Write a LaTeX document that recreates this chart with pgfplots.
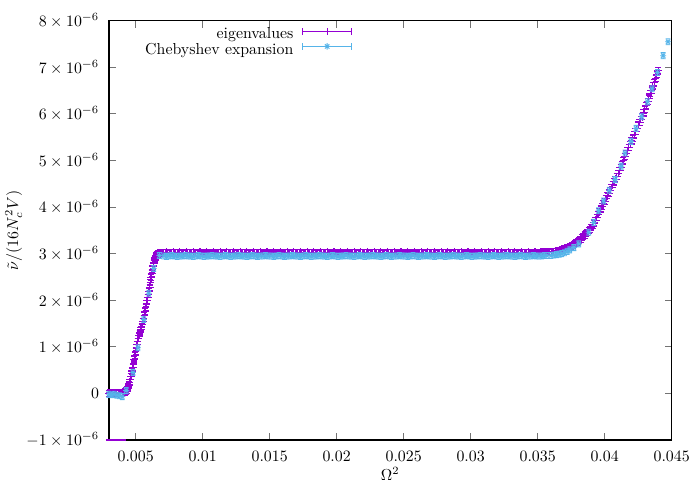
\documentclass[border=0pt]{standalone}
\usepackage{pgfplots}
\usepackage{pgfplotstable}
\pgfplotsset{compat=1.18}
\definecolor{gpPurple}{RGB}{148,0,211}
\definecolor{gpBlue}{RGB}{86,180,233}

% gnuplot-like point + error bar caps
\pgfdeclareplotmark{gpplus}{%
  \pgfpathmoveto{\pgfqpoint{-\pgfplotmarksize}{0pt}}%
  \pgfpathlineto{\pgfqpoint{\pgfplotmarksize}{0pt}}%
  \pgfpathmoveto{\pgfqpoint{0pt}{-\pgfplotmarksize}}%
  \pgfpathlineto{\pgfqpoint{0pt}{\pgfplotmarksize}}%
  \pgfpathmoveto{\pgfqpoint{-0.8\pgfplotmarksize}{0.8\pgfplotmarksize}}%
  \pgfpathlineto{\pgfqpoint{0.8\pgfplotmarksize}{0.8\pgfplotmarksize}}%
  \pgfpathmoveto{\pgfqpoint{-0.8\pgfplotmarksize}{-0.8\pgfplotmarksize}}%
  \pgfpathlineto{\pgfqpoint{0.8\pgfplotmarksize}{-0.8\pgfplotmarksize}}%
  \pgfusepathqstroke}
\pgfdeclareplotmark{gpstar}{%
  \pgfpathmoveto{\pgfqpoint{-\pgfplotmarksize}{0pt}}%
  \pgfpathlineto{\pgfqpoint{\pgfplotmarksize}{0pt}}%
  \pgfpathmoveto{\pgfqpoint{0pt}{-\pgfplotmarksize}}%
  \pgfpathlineto{\pgfqpoint{0pt}{\pgfplotmarksize}}%
  \pgfpathmoveto{\pgfqpoint{-0.7\pgfplotmarksize}{-0.7\pgfplotmarksize}}%
  \pgfpathlineto{\pgfqpoint{0.7\pgfplotmarksize}{0.7\pgfplotmarksize}}%
  \pgfpathmoveto{\pgfqpoint{-0.7\pgfplotmarksize}{0.7\pgfplotmarksize}}%
  \pgfpathlineto{\pgfqpoint{0.7\pgfplotmarksize}{-0.7\pgfplotmarksize}}%
  \pgfpathmoveto{\pgfqpoint{-0.8\pgfplotmarksize}{\pgfplotmarksize}}%
  \pgfpathlineto{\pgfqpoint{0.8\pgfplotmarksize}{\pgfplotmarksize}}%
  \pgfpathmoveto{\pgfqpoint{-0.8\pgfplotmarksize}{-\pgfplotmarksize}}%
  \pgfpathlineto{\pgfqpoint{0.8\pgfplotmarksize}{-\pgfplotmarksize}}%
  \pgfusepathqstroke}

% eigenvalues, v in units of 1e-6
\pgfplotstableread[row sep=\\]{
x v \\
0.00297 0.00 \\
0.0030 0.00 \\ 0.0031 0.01 \\ 0.0032 0.00 \\ 0.0033 -0.01 \\ 0.0034 0.00 \\ 0.0035 0.01 \\
0.0036 0.00 \\ 0.0037 -0.01 \\ 0.0038 0.00 \\ 0.0039 0.01 \\ 0.0040 0.01 \\ 0.0041 0.02 \\
0.00420 0.03 \\ 0.00425 0.04 \\ 0.00430 0.05 \\ 0.00435 0.07 \\ 0.00440 0.10 \\ 0.00445 0.14 \\
0.00450 0.18 \\ 0.00455 0.24 \\ 0.00460 0.30 \\ 0.00465 0.36 \\ 0.00470 0.42 \\ 0.00475 0.48 \\
0.00480 0.55 \\ 0.00485 0.63 \\ 0.00490 0.72 \\ 0.00495 0.81 \\ 0.00500 0.90 \\ 0.00505 0.98 \\
0.00510 1.05 \\ 0.00515 1.12 \\ 0.00520 1.18 \\ 0.00525 1.24 \\ 0.00530 1.29 \\ 0.00535 1.34 \\
0.00540 1.38 \\ 0.00545 1.43 \\ 0.00550 1.48 \\ 0.00555 1.54 \\ 0.00560 1.60 \\ 0.00565 1.68 \\
0.00570 1.76 \\ 0.00575 1.84 \\ 0.00580 1.92 \\ 0.00585 1.99 \\ 0.00590 2.06 \\ 0.00595 2.12 \\
0.00600 2.18 \\ 0.00605 2.28 \\ 0.00610 2.38 \\ 0.00615 2.48 \\ 0.00620 2.58 \\ 0.00625 2.66 \\
0.00630 2.74 \\ 0.00635 2.80 \\ 0.00640 2.85 \\ 0.00645 2.89 \\ 0.00650 2.93 \\ 0.00655 2.95 \\
0.00660 2.97 \\ 0.00665 2.99 \\ 0.00670 3.00 \\ 0.00675 3.01 \\ 0.00680 3.01 \\ 0.00685 3.02 \\
0.00690 3.02 \\ 0.00695 3.02 \\ 0.00700 3.02 \\
0.0071 3.02 \\ 0.0072 3.02 \\ 0.0073 3.03 \\ 0.0074 3.02 \\ 0.0075 3.01 \\ 0.0076 3.02 \\ 0.0077 3.02 \\ 0.0078 3.03 \\ 0.0079 3.02 \\ 0.0080 3.02 \\
0.0081 3.02 \\ 0.0082 3.02 \\ 0.0083 3.03 \\ 0.0084 3.02 \\ 0.0085 3.01 \\ 0.0086 3.02 \\ 0.0087 3.02 \\ 0.0088 3.03 \\ 0.0089 3.02 \\ 0.0090 3.02 \\
0.0091 3.02 \\ 0.0092 3.02 \\ 0.0093 3.03 \\ 0.0094 3.02 \\ 0.0095 3.01 \\ 0.0096 3.02 \\ 0.0097 3.02 \\ 0.0098 3.03 \\ 0.0099 3.02 \\ 0.0100 3.02 \\
0.0101 3.02 \\ 0.0102 3.02 \\ 0.0103 3.03 \\ 0.0104 3.02 \\ 0.0105 3.01 \\ 0.0106 3.02 \\ 0.0107 3.02 \\ 0.0108 3.03 \\ 0.0109 3.02 \\ 0.0110 3.02 \\
0.0111 3.02 \\ 0.0112 3.02 \\ 0.0113 3.03 \\ 0.0114 3.02 \\ 0.0115 3.01 \\ 0.0116 3.02 \\ 0.0117 3.02 \\ 0.0118 3.03 \\ 0.0119 3.02 \\ 0.0120 3.02 \\
0.0121 3.02 \\ 0.0122 3.02 \\ 0.0123 3.03 \\ 0.0124 3.02 \\ 0.0125 3.01 \\ 0.0126 3.02 \\ 0.0127 3.02 \\ 0.0128 3.03 \\ 0.0129 3.02 \\ 0.0130 3.02 \\
0.0131 3.02 \\ 0.0132 3.02 \\ 0.0133 3.03 \\ 0.0134 3.02 \\ 0.0135 3.01 \\ 0.0136 3.02 \\ 0.0137 3.02 \\ 0.0138 3.03 \\ 0.0139 3.02 \\ 0.0140 3.02 \\
0.0141 3.02 \\ 0.0142 3.02 \\ 0.0143 3.03 \\ 0.0144 3.02 \\ 0.0145 3.01 \\ 0.0146 3.02 \\ 0.0147 3.02 \\ 0.0148 3.03 \\ 0.0149 3.02 \\ 0.0150 3.02 \\
0.0151 3.02 \\ 0.0152 3.02 \\ 0.0153 3.03 \\ 0.0154 3.02 \\ 0.0155 3.01 \\ 0.0156 3.02 \\ 0.0157 3.02 \\ 0.0158 3.03 \\ 0.0159 3.02 \\ 0.0160 3.02 \\
0.0161 3.02 \\ 0.0162 3.02 \\ 0.0163 3.03 \\ 0.0164 3.02 \\ 0.0165 3.01 \\ 0.0166 3.02 \\ 0.0167 3.02 \\ 0.0168 3.03 \\ 0.0169 3.02 \\ 0.0170 3.02 \\
0.0171 3.02 \\ 0.0172 3.02 \\ 0.0173 3.03 \\ 0.0174 3.02 \\ 0.0175 3.01 \\ 0.0176 3.02 \\ 0.0177 3.02 \\ 0.0178 3.03 \\ 0.0179 3.02 \\ 0.0180 3.02 \\
0.0181 3.02 \\ 0.0182 3.02 \\ 0.0183 3.03 \\ 0.0184 3.02 \\ 0.0185 3.01 \\ 0.0186 3.02 \\ 0.0187 3.02 \\ 0.0188 3.03 \\ 0.0189 3.02 \\ 0.0190 3.02 \\
0.0191 3.02 \\ 0.0192 3.02 \\ 0.0193 3.03 \\ 0.0194 3.02 \\ 0.0195 3.01 \\ 0.0196 3.02 \\ 0.0197 3.02 \\ 0.0198 3.03 \\ 0.0199 3.02 \\ 0.0200 3.02 \\
0.0201 3.02 \\ 0.0202 3.02 \\ 0.0203 3.03 \\ 0.0204 3.02 \\ 0.0205 3.01 \\ 0.0206 3.02 \\ 0.0207 3.02 \\ 0.0208 3.03 \\ 0.0209 3.02 \\ 0.0210 3.02 \\
0.0211 3.02 \\ 0.0212 3.02 \\ 0.0213 3.03 \\ 0.0214 3.02 \\ 0.0215 3.01 \\ 0.0216 3.02 \\ 0.0217 3.02 \\ 0.0218 3.03 \\ 0.0219 3.02 \\ 0.0220 3.02 \\
0.0221 3.02 \\ 0.0222 3.02 \\ 0.0223 3.03 \\ 0.0224 3.02 \\ 0.0225 3.01 \\ 0.0226 3.02 \\ 0.0227 3.02 \\ 0.0228 3.03 \\ 0.0229 3.02 \\ 0.0230 3.02 \\
0.0231 3.02 \\ 0.0232 3.02 \\ 0.0233 3.03 \\ 0.0234 3.02 \\ 0.0235 3.01 \\ 0.0236 3.02 \\ 0.0237 3.02 \\ 0.0238 3.03 \\ 0.0239 3.02 \\ 0.0240 3.02 \\
0.0241 3.02 \\ 0.0242 3.02 \\ 0.0243 3.03 \\ 0.0244 3.02 \\ 0.0245 3.01 \\ 0.0246 3.02 \\ 0.0247 3.02 \\ 0.0248 3.03 \\ 0.0249 3.02 \\ 0.0250 3.02 \\
0.0251 3.02 \\ 0.0252 3.02 \\ 0.0253 3.03 \\ 0.0254 3.02 \\ 0.0255 3.01 \\ 0.0256 3.02 \\ 0.0257 3.02 \\ 0.0258 3.03 \\ 0.0259 3.02 \\ 0.0260 3.02 \\
0.0261 3.02 \\ 0.0262 3.02 \\ 0.0263 3.03 \\ 0.0264 3.02 \\ 0.0265 3.01 \\ 0.0266 3.02 \\ 0.0267 3.02 \\ 0.0268 3.03 \\ 0.0269 3.02 \\ 0.0270 3.02 \\
0.0271 3.02 \\ 0.0272 3.02 \\ 0.0273 3.03 \\ 0.0274 3.02 \\ 0.0275 3.01 \\ 0.0276 3.02 \\ 0.0277 3.02 \\ 0.0278 3.03 \\ 0.0279 3.02 \\ 0.0280 3.02 \\
0.0281 3.02 \\ 0.0282 3.02 \\ 0.0283 3.03 \\ 0.0284 3.02 \\ 0.0285 3.01 \\ 0.0286 3.02 \\ 0.0287 3.02 \\ 0.0288 3.03 \\ 0.0289 3.02 \\ 0.0290 3.02 \\
0.0291 3.02 \\ 0.0292 3.02 \\ 0.0293 3.03 \\ 0.0294 3.02 \\ 0.0295 3.01 \\ 0.0296 3.02 \\ 0.0297 3.02 \\ 0.0298 3.03 \\ 0.0299 3.02 \\ 0.0300 3.02 \\
0.0301 3.02 \\ 0.0302 3.02 \\ 0.0303 3.03 \\ 0.0304 3.02 \\ 0.0305 3.01 \\ 0.0306 3.02 \\ 0.0307 3.02 \\ 0.0308 3.03 \\ 0.0309 3.02 \\ 0.0310 3.02 \\
0.0311 3.02 \\ 0.0312 3.02 \\ 0.0313 3.03 \\ 0.0314 3.02 \\ 0.0315 3.01 \\ 0.0316 3.02 \\ 0.0317 3.02 \\ 0.0318 3.03 \\ 0.0319 3.02 \\ 0.0320 3.02 \\
0.0321 3.02 \\ 0.0322 3.02 \\ 0.0323 3.03 \\ 0.0324 3.02 \\ 0.0325 3.01 \\ 0.0326 3.02 \\ 0.0327 3.02 \\ 0.0328 3.03 \\ 0.0329 3.02 \\ 0.0330 3.02 \\
0.0331 3.02 \\ 0.0332 3.02 \\ 0.0333 3.03 \\ 0.0334 3.02 \\ 0.0335 3.01 \\ 0.0336 3.02 \\ 0.0337 3.02 \\ 0.0338 3.03 \\ 0.0339 3.02 \\ 0.0340 3.02 \\
0.0341 3.02 \\ 0.0342 3.02 \\ 0.0343 3.03 \\ 0.0344 3.02 \\ 0.0345 3.01 \\ 0.0346 3.02 \\ 0.0347 3.02 \\ 0.0348 3.03 \\ 0.0349 3.02 \\ 0.0350 3.02 \\
0.0351 3.02 \\ 0.0352 3.03 \\ 0.0353 3.03 \\ 0.0354 3.03 \\ 0.0355 3.03 \\
0.0356 3.03 \\ 0.0357 3.03 \\ 0.0358 3.03 \\ 0.0359 3.04 \\ 0.0360 3.04 \\ 0.0361 3.04 \\ 0.0362 3.05 \\ 0.0363 3.05 \\ 0.0364 3.05 \\ 0.0365 3.06 \\
0.0366 3.06 \\ 0.0367 3.07 \\ 0.0368 3.08 \\ 0.0369 3.09 \\ 0.0370 3.10 \\ 0.0371 3.11 \\ 0.0372 3.12 \\ 0.0373 3.13 \\ 0.0374 3.15 \\ 0.0375 3.16 \\
0.0376 3.18 \\ 0.0377 3.20 \\ 0.0378 3.22 \\ 0.0379 3.24 \\ 0.0380 3.26 \\ 0.0381 3.28 \\ 0.0382 3.31 \\ 0.0383 3.34 \\ 0.0384 3.37 \\ 0.0385 3.40 \\
0.0386 3.43 \\ 0.0387 3.46 \\ 0.0388 3.49 \\ 0.0389 3.52 \\ 0.0390 3.56 \\ 0.0391 3.61 \\ 0.0392 3.66 \\ 0.0393 3.72 \\ 0.0394 3.78 \\ 0.0395 3.84 \\
0.0396 3.90 \\ 0.0397 3.96 \\ 0.0398 4.02 \\ 0.0399 4.07 \\ 0.0400 4.12 \\ 0.0401 4.18 \\ 0.0402 4.24 \\ 0.0403 4.30 \\ 0.0404 4.36 \\ 0.0405 4.42 \\
0.0406 4.48 \\ 0.0407 4.54 \\ 0.0408 4.60 \\ 0.0409 4.66 \\ 0.0410 4.72 \\ 0.0411 4.78 \\ 0.0412 4.85 \\ 0.0413 4.92 \\ 0.0414 5.00 \\ 0.0415 5.08 \\
0.0416 5.15 \\ 0.0417 5.21 \\ 0.0418 5.28 \\ 0.0419 5.35 \\ 0.0420 5.42 \\ 0.0421 5.48 \\ 0.0422 5.55 \\ 0.0423 5.62 \\ 0.0424 5.69 \\ 0.0425 5.76 \\
0.0426 5.82 \\ 0.0427 5.88 \\ 0.0428 5.94 \\ 0.0429 6.02 \\ 0.0430 6.10 \\ 0.0431 6.18 \\ 0.0432 6.26 \\ 0.0433 6.34 \\ 0.0434 6.43 \\ 0.0435 6.51 \\
0.0436 6.60 \\ 0.0437 6.68 \\ 0.0438 6.76 \\ 0.0439 6.85 \\ 0.0440 6.93 \\
}\eigen

% points sitting on the lower border
\pgfplotstableread[row sep=\\]{
x v \\
0.0030 -1.0 \\ 0.0031 -1.0 \\ 0.0032 -1.0 \\ 0.0033 -1.0 \\ 0.0034 -1.0 \\ 0.0035 -1.0 \\
0.0036 -1.0 \\ 0.0037 -1.0 \\ 0.0038 -1.0 \\ 0.0039 -1.0 \\ 0.0040 -1.0 \\
}\eigenlow

% Chebyshev expansion, v in units of 1e-6
\pgfplotstableread[row sep=\\]{
x v \\
0.0030 -0.02 \\ 0.0032 -0.03 \\ 0.0034 -0.02 \\ 0.0036 -0.04 \\ 0.0038 -0.05 \\
0.0040 -0.07 \\ 0.0043 0.06 \\ 0.0048 0.45 \\ 0.00517 0.98 \\ 0.00561 1.59 \\
0.00598 2.15 \\ 0.00635 2.68 \\ 0.00677 2.96 \\
0.0071 2.95 \\ 0.0073 2.94 \\ 0.0075 2.95 \\ 0.0077 2.96 \\ 0.0079 2.95 \\ 0.0081 2.94 \\ 0.0083 2.95 \\ 0.0085 2.95 \\ 0.0087 2.96 \\ 0.0089 2.95 \\
0.0091 2.95 \\ 0.0093 2.94 \\ 0.0095 2.95 \\ 0.0097 2.96 \\ 0.0099 2.95 \\ 0.0101 2.94 \\ 0.0103 2.95 \\ 0.0105 2.95 \\ 0.0107 2.96 \\ 0.0109 2.95 \\
0.0111 2.95 \\ 0.0113 2.94 \\ 0.0115 2.95 \\ 0.0117 2.96 \\ 0.0119 2.95 \\ 0.0121 2.94 \\ 0.0123 2.95 \\ 0.0125 2.95 \\ 0.0127 2.96 \\ 0.0129 2.95 \\
0.0131 2.95 \\ 0.0133 2.94 \\ 0.0135 2.95 \\ 0.0137 2.96 \\ 0.0139 2.95 \\ 0.0141 2.94 \\ 0.0143 2.95 \\ 0.0145 2.95 \\ 0.0147 2.96 \\ 0.0149 2.95 \\
0.0151 2.95 \\ 0.0153 2.94 \\ 0.0155 2.95 \\ 0.0157 2.96 \\ 0.0159 2.95 \\ 0.0161 2.94 \\ 0.0163 2.95 \\ 0.0165 2.95 \\ 0.0167 2.96 \\ 0.0169 2.95 \\
0.0171 2.95 \\ 0.0173 2.94 \\ 0.0175 2.95 \\ 0.0177 2.96 \\ 0.0179 2.95 \\ 0.0181 2.94 \\ 0.0183 2.95 \\ 0.0185 2.95 \\ 0.0187 2.96 \\ 0.0189 2.95 \\
0.0191 2.95 \\ 0.0193 2.94 \\ 0.0195 2.95 \\ 0.0197 2.96 \\ 0.0199 2.95 \\ 0.0201 2.94 \\ 0.0203 2.95 \\ 0.0205 2.95 \\ 0.0207 2.96 \\ 0.0209 2.95 \\
0.0211 2.95 \\ 0.0213 2.94 \\ 0.0215 2.95 \\ 0.0217 2.96 \\ 0.0219 2.95 \\ 0.0221 2.94 \\ 0.0223 2.95 \\ 0.0225 2.95 \\ 0.0227 2.96 \\ 0.0229 2.95 \\
0.0231 2.95 \\ 0.0233 2.94 \\ 0.0235 2.95 \\ 0.0237 2.96 \\ 0.0239 2.95 \\ 0.0241 2.94 \\ 0.0243 2.95 \\ 0.0245 2.95 \\ 0.0247 2.96 \\ 0.0249 2.95 \\
0.0251 2.95 \\ 0.0253 2.94 \\ 0.0255 2.95 \\ 0.0257 2.96 \\ 0.0259 2.95 \\ 0.0261 2.94 \\ 0.0263 2.95 \\ 0.0265 2.95 \\ 0.0267 2.96 \\ 0.0269 2.95 \\
0.0271 2.95 \\ 0.0273 2.94 \\ 0.0275 2.95 \\ 0.0277 2.96 \\ 0.0279 2.95 \\ 0.0281 2.94 \\ 0.0283 2.95 \\ 0.0285 2.95 \\ 0.0287 2.96 \\ 0.0289 2.95 \\
0.0291 2.95 \\ 0.0293 2.94 \\ 0.0295 2.95 \\ 0.0297 2.96 \\ 0.0299 2.95 \\ 0.0301 2.94 \\ 0.0303 2.95 \\ 0.0305 2.95 \\ 0.0307 2.96 \\ 0.0309 2.95 \\
0.0311 2.95 \\ 0.0313 2.94 \\ 0.0315 2.95 \\ 0.0317 2.96 \\ 0.0319 2.95 \\ 0.0321 2.94 \\ 0.0323 2.95 \\ 0.0325 2.95 \\ 0.0327 2.96 \\ 0.0329 2.95 \\
0.0331 2.95 \\ 0.0333 2.94 \\ 0.0335 2.95 \\ 0.0337 2.96 \\ 0.0339 2.95 \\ 0.0341 2.94 \\ 0.0343 2.95 \\ 0.0345 2.95 \\ 0.0347 2.96 \\ 0.0349 2.95 \\
0.0351 2.95 \\ 0.0353 2.95 \\ 0.0355 2.96 \\
0.0357 2.96 \\ 0.0360 2.96 \\ 0.0362 2.97 \\ 0.0364 2.98 \\ 0.0366 2.99 \\ 0.0368 3.00 \\
0.0370 3.02 \\ 0.0372 3.05 \\ 0.0374 3.08 \\ 0.0377 3.13 \\ 0.03807 3.21 \\
0.03881 3.46 \\ 0.03918 3.67 \\ 0.03955 3.92 \\ 0.03992 4.13 \\ 0.04034 4.36 \\
0.04078 4.59 \\ 0.04123 4.88 \\ 0.04152 5.16 \\ 0.04197 5.41 \\ 0.04234 5.69 \\
0.04276 5.94 \\ 0.04320 6.26 \\ 0.04354 6.54 \\ 0.04394 6.89 \\ 0.04436 7.25 \\
0.04473 7.55 \\
}\cheb

\begin{document}
\begin{tikzpicture}
\begin{axis}[
    width=355pt, height=264.4pt, scale only axis,
    xmin=0.003, xmax=0.045,
    ymin=-1e-6, ymax=8e-6,
    xtick={0.005,0.01,0.015,0.02,0.025,0.03,0.035,0.04,0.045},
    xticklabels={0.005,0.01,0.015,0.02,0.025,0.03,0.035,0.04,0.045},
    ytick={-1e-6,0,1e-6,2e-6,3e-6,4e-6,5e-6,6e-6,7e-6,8e-6},
    yticklabels={$-1\times10^{-6}$,$0$,$1\times10^{-6}$,$2\times10^{-6}$,$3\times10^{-6}$,
                 $4\times10^{-6}$,$5\times10^{-6}$,$6\times10^{-6}$,$7\times10^{-6}$,$8\times10^{-6}$},
    scaled x ticks=false, scaled y ticks=false,
    tick align=inside, major tick length=4.4pt,
    tick style={black!55, line width=0.6pt},
    axis line style={line width=0.9pt},
    xticklabel style={yshift=-3.5pt},
    yticklabel style={xshift=-2.7pt},
    xlabel={$\Omega^2$},
    ylabel={$\tilde{\nu}/(16N_c^2V)$},
    every axis x label/.style={at={(rel axis cs:0.5,-0.0813)}, anchor=center},
    every axis y label/.style={at={(rel axis cs:-0.169,0.5)}, rotate=90, anchor=center},
    clip mode=individual,
    legend plot pos=right,
    legend cell align=right,
    legend style={at={(0.433,0.985)}, anchor=north east, draw=none, fill=none,
        inner sep=0pt, row sep=0pt, column sep=5.5pt,
        nodes={inner sep=0pt, text height=6.8pt, text depth=2.2pt}},
]
\addplot[gpPurple, only marks, mark=gpplus, mark size=2.4pt, line width=0.7pt,
    legend image code/.code={
        \draw[gpPurple, line width=0.6pt] (0pt,2.5pt) -- (31pt,2.5pt);
        \draw[gpPurple, line width=0.6pt] (0pt,0.3pt) -- (0pt,4.7pt);
        \draw[gpPurple, line width=0.6pt] (31pt,0.3pt) -- (31pt,4.7pt);
        \draw[gpPurple, line width=0.6pt] (13.4pt,2.5pt) -- (17.6pt,2.5pt) (15.5pt,0.4pt) -- (15.5pt,4.6pt);
    }]
    table[x=x, y expr=\thisrow{v}*1e-6] {\eigen};
\addlegendentry{eigenvalues}
\addplot[gpPurple, only marks, mark=-, mark size=2.1pt, line width=1.4pt, forget plot]
    table[x=x, y expr=\thisrow{v}*1e-6] {\eigenlow};
\addplot[gpBlue, only marks, mark=gpstar, mark size=1.9pt, line width=0.55pt,
    legend image code/.code={
        \draw[gpBlue, line width=0.6pt] (0pt,2.5pt) -- (31pt,2.5pt);
        \draw[gpBlue, line width=0.6pt] (0pt,0.3pt) -- (0pt,4.7pt);
        \draw[gpBlue, line width=0.6pt] (31pt,0.3pt) -- (31pt,4.7pt);
        \draw[gpBlue, line width=0.6pt] (13.5pt,2.5pt) -- (17.5pt,2.5pt) (15.5pt,0.5pt) -- (15.5pt,4.5pt)
            (14.1pt,1.1pt) -- (16.9pt,3.9pt) (14.1pt,3.9pt) -- (16.9pt,1.1pt);
    }]
    table[x=x, y expr=\thisrow{v}*1e-6] {\cheb};
\addlegendentry{Chebyshev expansion}
% keep the page margins of the reference
\path (rel axis cs:0,0) ++(-68.1pt,-27.5pt);
\path (rel axis cs:1,1) ++(11.3pt,13.1pt);
\end{axis}
\end{tikzpicture}
\end{document}
